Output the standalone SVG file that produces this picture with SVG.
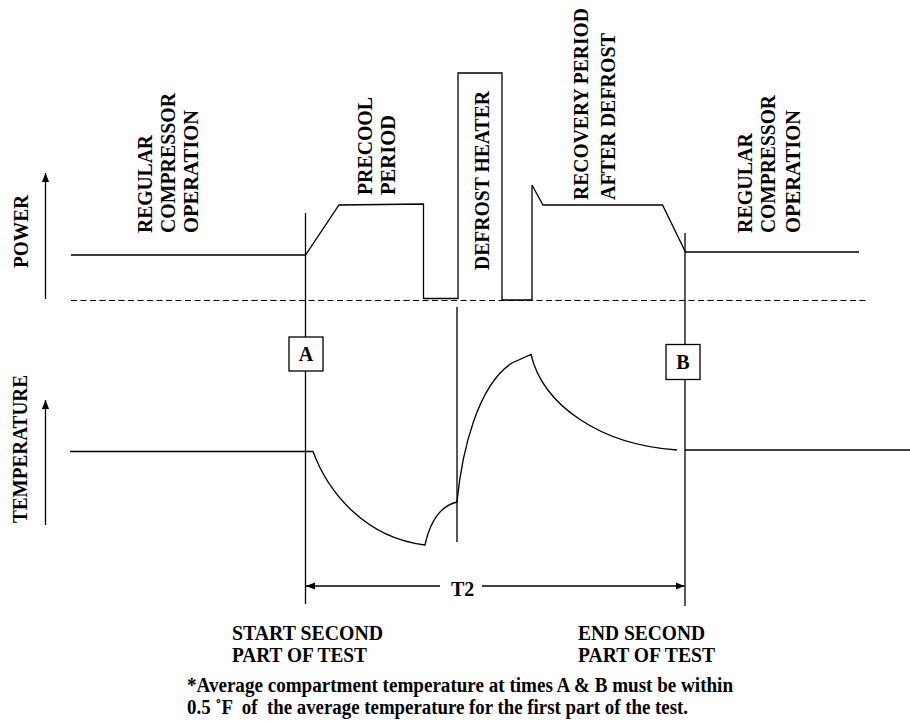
<svg xmlns="http://www.w3.org/2000/svg" width="910" height="721" viewBox="0 0 910 721">
<style>
text{font-family:'Liberation Serif','Times New Roman',Times,serif;font-weight:700;font-size:20px;fill:#000}
.ln{fill:none;stroke:#000;stroke-width:1.3}
.dash{fill:none;stroke:#000;stroke-width:1.2;stroke-dasharray:6 3.5}
.box{fill:#fff;stroke:#000;stroke-width:1.3}
.pre{white-space:pre}
</style>
<defs>
<marker id="ah" viewBox="0 0 10 10" refX="10" refY="5" markerWidth="9" markerHeight="9" markerUnits="userSpaceOnUse" orient="auto">
<path d="M0,1 L10,5 L0,9 Z" fill="#000"/>
</marker>
</defs>
<rect width="910" height="721" fill="#fff"/>
<g id="connectors">
<line class="ln" x1="45.5" y1="299" x2="45.5" y2="173" marker-end="url(#ah)"/>
<line class="ln" x1="45.5" y1="525" x2="45.5" y2="400" marker-end="url(#ah)"/>
<line class="dash" x1="71" y1="300.5" x2="868" y2="300.5"/>
<polyline class="ln" points="71,255 305.5,255 339,205 423.5,204 423.5,298.5 458,298.5 458,73 502,73 502,300 532,300 532,185 543,205 662.5,205 685.5,252 859,252"/>
<line class="ln" x1="305.5" y1="213" x2="305.5" y2="604"/>
<line class="ln" x1="457" y1="307" x2="457" y2="542"/>
<line class="ln" x1="685" y1="233" x2="685" y2="606"/>
<path class="ln" d="M70,451.5 L313,451.5 C328,492 365,538 425,545 C430,522 440,506 457,502 C462,450 478,385 512,363 L531,354.5 C543,405 600,445 677,450"/>
<line class="ln" x1="685" y1="450" x2="910" y2="450"/>
<line class="ln" x1="440" y1="586" x2="306" y2="586" marker-end="url(#ah)"/>
<line class="ln" x1="482" y1="586" x2="684.5" y2="586" marker-end="url(#ah)"/>
</g>
<g id="boxA">
<rect class="box" x="289" y="337" width="34" height="34"/>
<text x="306" y="361" text-anchor="middle">A</text>
</g>
<g id="boxB">
<rect class="box" x="666" y="344.5" width="34" height="35"/>
<text x="683" y="369" text-anchor="middle">B</text>
</g>
<g id="power-label"><text transform="translate(28,268) rotate(-90)" textLength="73" lengthAdjust="spacingAndGlyphs">POWER</text></g>
<g id="temperature-label"><text transform="translate(27,523) rotate(-90)" textLength="148" lengthAdjust="spacingAndGlyphs">TEMPERATURE</text></g>
<g id="regular-left">
<text transform="translate(152,233) rotate(-90)" textLength="98" lengthAdjust="spacingAndGlyphs">REGULAR</text>
<text transform="translate(175,233) rotate(-90)" textLength="140" lengthAdjust="spacingAndGlyphs">COMPRESSOR</text>
<text transform="translate(198,233) rotate(-90)" textLength="123" lengthAdjust="spacingAndGlyphs">OPERATION</text>
</g>
<g id="precool">
<text transform="translate(372,195) rotate(-90)" textLength="98" lengthAdjust="spacingAndGlyphs">PRECOOL</text>
<text transform="translate(395,195) rotate(-90)" textLength="80" lengthAdjust="spacingAndGlyphs">PERIOD</text>
</g>
<g id="defrost-heater">
<text transform="translate(489,270) rotate(-90)" textLength="179" lengthAdjust="spacingAndGlyphs">DEFROST HEATER</text>
</g>
<g id="recovery">
<text transform="translate(588,200) rotate(-90)" textLength="192" lengthAdjust="spacingAndGlyphs">RECOVERY PERIOD</text>
<text transform="translate(615,200) rotate(-90)" textLength="167" lengthAdjust="spacingAndGlyphs">AFTER DEFROST</text>
</g>
<g id="regular-right">
<text transform="translate(752,233) rotate(-90)" textLength="100" lengthAdjust="spacingAndGlyphs">REGULAR</text>
<text transform="translate(775,233) rotate(-90)" textLength="138" lengthAdjust="spacingAndGlyphs">COMPRESSOR</text>
<text transform="translate(800,233) rotate(-90)" textLength="123" lengthAdjust="spacingAndGlyphs">OPERATION</text>
</g>
<g id="t2"><text x="451" y="596">T2</text></g>
<g id="start-label">
<text x="232" y="640" textLength="151" lengthAdjust="spacingAndGlyphs">START SECOND</text>
<text x="232" y="662" textLength="135" lengthAdjust="spacingAndGlyphs">PART OF TEST</text>
</g>
<g id="end-label">
<text x="578" y="640" textLength="127" lengthAdjust="spacingAndGlyphs">END SECOND</text>
<text x="578" y="662" textLength="137" lengthAdjust="spacingAndGlyphs">PART OF TEST</text>
</g>
<g id="footnote">
<text x="187" y="692" textLength="546" lengthAdjust="spacingAndGlyphs">*Average compartment temperature at times A &amp; B must be within</text>
<text class="pre" x="187" y="714" textLength="501" lengthAdjust="spacingAndGlyphs">0.5 ˚F  of  the average temperature for the first part of the test.</text>
</g>
</svg>
